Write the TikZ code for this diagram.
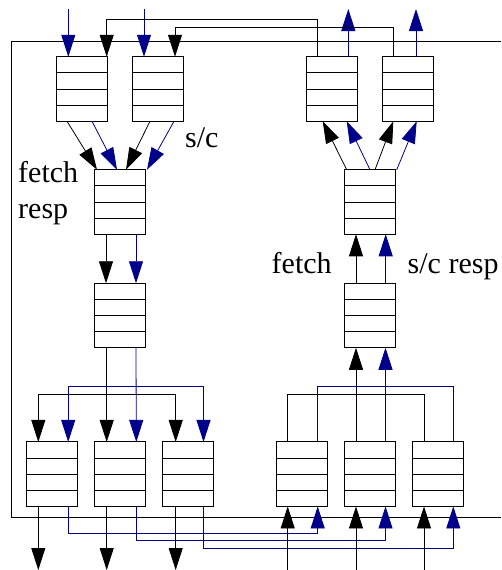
\documentclass[tikz,border=0pt]{standalone}
\usepackage{fontspec}
\setmainfont{Liberation Serif}
\usetikzlibrary{arrows.meta,calc}
\definecolor{qblue}{RGB}{0,0,139}
\tikzset{
  queue/.style={draw, line width=1pt, minimum width=51pt, minimum height=64.5pt,
    inner sep=0pt, outer sep=0pt,
    path picture={\foreach \f in {0.25,0.5,0.75}{
      \draw[line width=1pt] ($(path picture bounding box.north west)!\f!(path picture bounding box.south west)$)
        -- ($(path picture bounding box.north east)!\f!(path picture bounding box.south east)$);}}},
  wire/.style={line width=0.8pt, black},
  bwire/.style={line width=0.8pt, qblue},
  arr/.style={wire, -{Triangle[length=22pt,width=14pt]}},
  barr/.style={bwire, -{Triangle[length=22pt,width=14pt]}},
  lbl/.style={anchor=base west, inner sep=0pt, font=\fontsize{30}{36}\selectfont},
}
\begin{document}
\begin{tikzpicture}[x=1pt,y=-1pt]
\useasboundingbox (0,0) rectangle (501,570);
% outer frame (cropped at right)
\coordinate (fr1) at (501,41);
\coordinate (fr2) at (11,41);
\coordinate (fr3) at (11,517);
\coordinate (fr4) at (501,517);
\draw[wire] (fr1) -- (fr2) -- (fr3) -- (fr4);

% queues
\node[queue] (A) at (82.3,89) {};
\node[queue] (B) at (158,89) {};
\node[queue] (C) at (332,89) {};
\node[queue] (D) at (407.7,89) {};
\node[queue] (E) at (120.3,202) {};
\node[queue] (F) at (370,202) {};
\node[queue] (H) at (120.3,315.5) {};
\node[queue] (G) at (370,315.5) {};
\node[queue] (I) at (52.2,474.2) {};
\node[queue] (J) at (120.3,474.2) {};
\node[queue] (K) at (188,474.2) {};
\node[queue] (L) at (301.7,474.2) {};
\node[queue] (M) at (370,474.2) {};
\node[queue] (N) at (437.8,474.2) {};

% labels
\node[lbl] (t1) at (185,147) {s/c};
\node[lbl] (t2) at (18,182) {fetch};
\node[lbl] (t3) at (18,218) {resp};
\node[lbl] (t4) at (271.5,273) {fetch};
\node[lbl] (t5) at (407.5,273) {s/c resp};

% top inputs / outputs
\coordinate (inA) at (68.3,9);
\coordinate (inB) at (144,9);
\coordinate (outC) at (348.3,9);
\coordinate (outD) at (416,9);
\draw[barr] (inA) -- ([xshift=-14]A.north);
\draw[barr] (inB) -- ([xshift=-14]B.north);
\draw[barr] ([xshift=16.3]C.north) -- (outC);
\draw[barr] ([xshift=8.3]D.north) -- (outD);
\draw[arr] ([xshift=-14.3]C.north) -- ++(0,-37) -| ([xshift=24.4]A.north);
\draw[arr] ([xshift=-14.4]D.north) -- ++(0,-29.3) -| ([xshift=17]B.north);

% A,B -> E
\draw[arr]  ([xshift=-15.3]A.south) -- ([xshift=-23.3]E.north);
\draw[barr] ([xshift=9.7]A.south) -- ([xshift=-3.3]E.north);
\draw[arr]  ([xshift=-8]B.south) -- ([xshift=5.7]E.north);
\draw[barr] ([xshift=16]B.south) -- ([xshift=26.7]E.north);

% F -> C,D
\draw[arr]  ([xshift=-23.3]F.north) -- ([xshift=-9.3]C.south);
\draw[barr] ([xshift=0]F.north) -- ([xshift=14.7]C.south);
\draw[arr]  ([xshift=5]F.north) -- ([xshift=-14.4]D.south);
\draw[barr] ([xshift=26.7]F.north) -- ([xshift=9]D.south);

% E -> H, G -> F
\draw[arr]  ([xshift=-14.3]E.south) -- ([xshift=-14.3]H.north);
\draw[barr] ([xshift=15.7]E.south) -- ([xshift=15.7]H.north);
\draw[arr]  ([xshift=-14]G.north) -- ([xshift=-14]F.south);
\draw[barr] ([xshift=15.7]G.north) -- ([xshift=15.7]F.south);

% H -> I,J,K
\coordinate (hk) at ($([xshift=-13.6]H.south)+(0,46.3)$);
\coordinate (hb) at ($([xshift=15.7]H.south)+(0,38.3)$);
\draw[arr]  ([xshift=-13.6]H.south) -- ([xshift=-13.6]J.north);
\draw[barr] ([xshift=15.7]H.south) -- ([xshift=16]J.north);
\draw[arr]  (hk) -| ([xshift=-13.9]I.north);
\draw[arr]  (hk) -| ([xshift=-12.3]K.north);
\draw[barr] (hb) -| ([xshift=16]I.north);
\draw[barr] (hb) -| ([xshift=15.5]K.north);

% L,M,N -> G
\draw[arr]  ([xshift=-14]M.north) -- ([xshift=-14]G.south);
\draw[barr] ([xshift=15.5]M.north) -- ([xshift=15.5]G.south);
\draw[wire] ([xshift=-14]L.north) -- ++(0,-47.7) -| ([xshift=-13.8]N.north);
\draw[bwire] ([xshift=16]L.north) -- ++(0,-55.7) -| ([xshift=15.5]N.north);

% bottom outputs of I,J,K
\coordinate (oI) at (38.3,570);
\coordinate (oJ) at (106.7,570);
\coordinate (oK) at (175.7,570);
\draw[arr] ([xshift=-13.9]I.south) -- (oI);
\draw[arr] ([xshift=-13.6]J.south) -- (oJ);
\draw[arr] ([xshift=-12.3]K.south) -- (oK);

% blue loop-back I,J,K -> L,M,N
\draw[barr] ([xshift=16]I.south) -- ++(0,26.6) -| ([xshift=16]L.south);
\draw[barr] ([xshift=16]J.south) -- ++(0,34) -| ([xshift=15.5]M.south);
\draw[barr] ([xshift=15.5]K.south) -- ++(0,41.6) -| ([xshift=15.5]N.south);

% bottom inputs of L,M,N
\coordinate (iL) at (287.7,570);
\coordinate (iM) at (356,570);
\coordinate (iN) at (424,570);
\draw[arr] (iL) -- ([xshift=-14]L.south);
\draw[arr] (iM) -- ([xshift=-14]M.south);
\draw[arr] (iN) -- ([xshift=-13.8]N.south);
\end{tikzpicture}
\end{document}
